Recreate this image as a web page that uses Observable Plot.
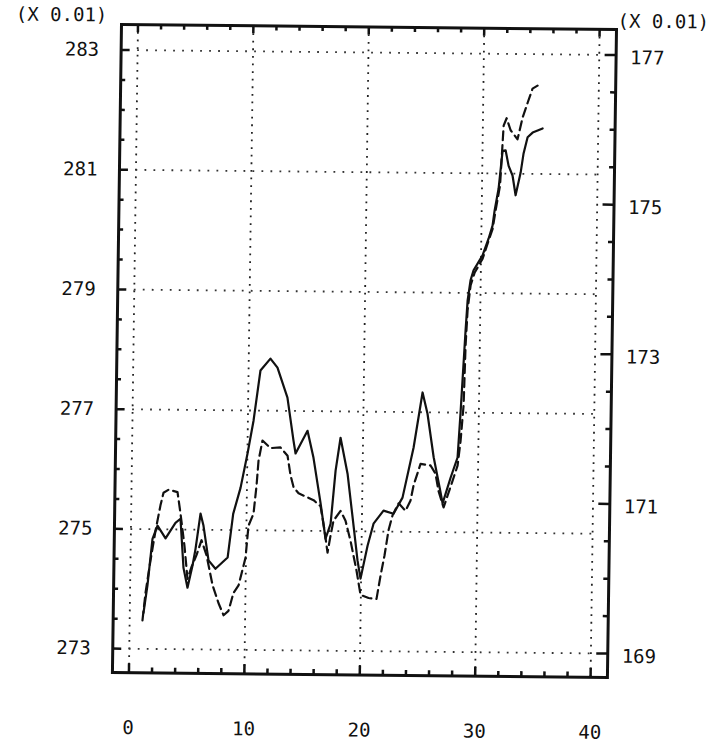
<!DOCTYPE html>
<html><head><meta charset="utf-8">
<script src="https://cdn.jsdelivr.net/npm/d3@7"></script>
<script src="https://cdn.jsdelivr.net/npm/@observablehq/plot@0.6"></script>
<style>
html,body{margin:0;padding:0;background:#fff;}
#chart{width:720px;height:746px;overflow:hidden;}
#chart svg{display:block;transform-origin:121px 24px;transform:matrix(1,0.0101,-0.014,1,0,0);}
</style></head><body><div id="chart"></div>
<script>
// Solid series (left axis, x 0.01)
const solidX = [1.19,1.50,1.88,2.30,3.01,3.43,3.85,4.28,4.60,4.97,5.38,5.62,6.01,6.28,6.76,7.37,8.41,8.84,9.45,10.01,10.49,11.03,11.88,12.50,13.40,13.98,14.17,15.18,15.73,16.40,16.87,17.29,17.66,18.05,18.70,19.19,19.67,19.95,20.52,21.01,21.86,22.73,23.49,24.39,25.10,25.55,26.14,26.75,26.97,27.63,28.21,28.41,28.75,28.89,29.12,29.37,30.13,30.63,30.96,31.12,31.44,31.74,32.00,32.28,32.63,32.92,33.33,33.56,33.89,34.32,35.18];
const solidY = [273.60,274.06,274.84,275.06,274.85,274.98,275.11,275.18,274.36,274.03,274.40,274.68,275.27,275.07,274.49,274.35,274.54,275.27,275.71,276.28,276.83,277.67,277.87,277.72,277.22,276.50,276.29,276.67,276.22,275.46,274.87,275.12,276.01,276.56,275.96,275.23,274.51,274.21,274.76,275.13,275.35,275.30,275.57,276.41,277.33,276.98,276.25,275.69,275.48,275.91,276.25,276.98,278.37,278.87,279.21,279.38,279.63,279.91,280.13,280.38,280.75,281.38,281.39,281.13,280.97,280.64,281.02,281.34,281.61,281.69,281.76];
// Dashed series (right axis, x 0.01)
const dashedX = [1.11,1.34,1.73,2.13,2.53,2.78,3.21,3.99,4.27,4.66,4.96,5.29,5.71,6.13,6.58,7.14,7.68,8.13,8.55,8.96,9.39,9.96,10.18,10.60,10.83,10.97,11.29,12.00,12.86,13.48,13.76,14.04,14.48,15.79,16.40,16.77,17.06,17.30,17.54,18.14,18.58,19.04,19.60,19.97,20.67,21.36,21.68,22.00,22.32,22.65,23.16,23.77,24.19,24.43,25.01,25.88,26.32,26.60,27.06,27.39,27.81,28.22,28.45,28.67,28.77,28.90,29.13,29.46,30.14,30.63,30.97,31.20,31.56,31.80,32.05,32.41,33.02,33.43,33.85,34.26,34.69];
const dashedY = [169.38,169.75,170.18,170.58,170.92,171.09,171.13,171.10,170.82,170.38,169.94,170.10,170.26,170.46,170.26,169.86,169.62,169.46,169.52,169.76,169.86,170.23,170.66,170.82,171.20,171.53,171.80,171.70,171.71,171.60,171.34,171.18,171.10,171.01,170.93,170.61,170.31,170.54,170.74,170.87,170.74,170.47,170.07,169.75,169.71,169.70,170.01,170.28,170.62,170.82,170.98,170.88,171.02,171.22,171.51,171.49,171.38,171.15,170.93,171.09,171.29,171.49,171.82,172.30,173.10,173.57,173.90,174.07,174.26,174.50,174.66,174.90,175.24,176.04,176.14,175.98,175.86,176.15,176.35,176.54,176.58];
const xTicks = [0,10,20,30,40];
const leftTicks = [273,275,277,279,281,283];
const rightTicks = [169,171,173,175,177];
const unitLabel = "(X 0.01)";

// right axis 169..177 shares the pixel span of left axis 273..283
const toLeft = r => 273 + (r - 169) / 0.8;
const toRight = l => 169 + (l - 273) * 0.8;

const solid = solidX.map((x, i) => ({x, y: solidY[i]}));
const dashed = dashedX.map((x, i) => ({x, y: toLeft(dashedY[i])}));

const W = 720, H = 746, mL = 121, mR = 104, mT = 24, mB = 74;
const xDom = [-1.43, 41.46], yDom = [272.6, 283.426];
const xpp = (xDom[1] - xDom[0]) / (W - mL - mR);
const ypp = (yDom[1] - yDom[0]) / (H - mT - mB);

const seq = (a, b, s) => d3.range(a, b + s / 2, s);
const xMinor = seq(0, 40, 2);
const leftMinor = seq(273, 283, 0.5);
const rightMinor = seq(169, 177, 0.5);
const isMajorX = d => xTicks.includes(d);
const isMajorL = d => leftTicks.includes(d);
const isMajorR = d => rightTicks.includes(d);

// tick segments (inward), lengths in pixels converted through the scales' spans
const leftTickSegs = leftMinor.map(v => ({y: v, x1: xDom[0], x2: xDom[0] + (isMajorL(v) ? 9 : 5) * xpp}));
const rightTickSegs = rightMinor.map(v => ({y: toLeft(v), x1: xDom[1] - (isMajorR(v) ? 11 : 5) * xpp, x2: xDom[1]}));
const bottomTickSegs = xMinor.map(v => ({x: v, y1: yDom[0], y2: yDom[0] + (isMajorX(v) ? 9 : 5) * ypp}));
const topTickSegs = xMinor.map(v => ({x: v, y1: yDom[1] - (isMajorX(v) ? 8 : 5) * ypp, y2: yDom[1]}));
const vGrid = xTicks.map(v => ({x: v, y1: yDom[0], y2: yDom[1]}));
const hGrid = leftTicks.map(v => ({y: v, x1: 0, x2: 40}));

const font = "DejaVu Sans Mono";
const ink = "#111";

const chart = Plot.plot({
  width: W, height: H,
  marginLeft: mL, marginRight: mR, marginTop: mT, marginBottom: mB,
  style: {background: "white", fontFamily: font, fontSize: "19px", color: ink},
  x: {domain: xDom},
  y: {domain: yDom},
  marks: [
    // dotted grid
    Plot.ruleX(vGrid, {x: "x", y1: "y1", y2: "y2", stroke: "#222", strokeWidth: 1.8, strokeDasharray: "1.8,5.8"}),
    Plot.ruleY(hGrid, {y: "y", x1: "x1", x2: "x2", stroke: "#333", strokeWidth: 1.8, strokeDasharray: "1.8,7.2"}),
    // inward ticks
    Plot.ruleY(leftTickSegs, {y: "y", x1: "x1", x2: "x2", stroke: ink, strokeWidth: 2.5}),
    Plot.ruleY(rightTickSegs, {y: "y", x1: "x1", x2: "x2", stroke: ink, strokeWidth: 2.5}),
    Plot.ruleX(bottomTickSegs, {x: "x", y1: "y1", y2: "y2", stroke: ink, strokeWidth: 2.5}),
    Plot.ruleX(topTickSegs, {x: "x", y1: "y1", y2: "y2", stroke: ink, strokeWidth: 2.5}),
    // data
    Plot.line(dashed, {x: "x", y: "y", stroke: ink, strokeWidth: 2.2, strokeDasharray: "9,5"}),
    Plot.line(solid, {x: "x", y: "y", stroke: ink, strokeWidth: 2.2}),
    // frame
    Plot.frame({stroke: ink, strokeWidth: 3}),
    // axes labels
    Plot.axisX(xTicks, {anchor: "bottom", label: null, tickSize: 0, tickPadding: 48, fontSize: 19, fontFamily: font, fill: ink, tickFormat: d => String(d)}),
    Plot.axisY(leftTicks, {anchor: "left", label: null, tickSize: 0, tickPadding: 22, fontSize: 19, fontFamily: font, fill: ink, tickFormat: d => String(d)}),
    Plot.axisY(rightTicks.map(toLeft), {anchor: "right", label: null, tickSize: 0, tickPadding: 14, dy: 3, fontSize: 19, fontFamily: font, fill: ink, tickFormat: d => String(Math.round(toRight(d)))}),
    Plot.text([unitLabel], {frameAnchor: "top-left", dx: -60, dy: -9, textAnchor: "middle", lineAnchor: "middle", fontSize: 19, fontFamily: font, fill: ink}),
    Plot.text([unitLabel], {frameAnchor: "top-right", dx: 1, dy: -8, textAnchor: "start", lineAnchor: "middle", fontSize: 19, fontFamily: font, fill: ink})
  ]
});
document.getElementById("chart").appendChild(chart);
</script>
</body></html>
